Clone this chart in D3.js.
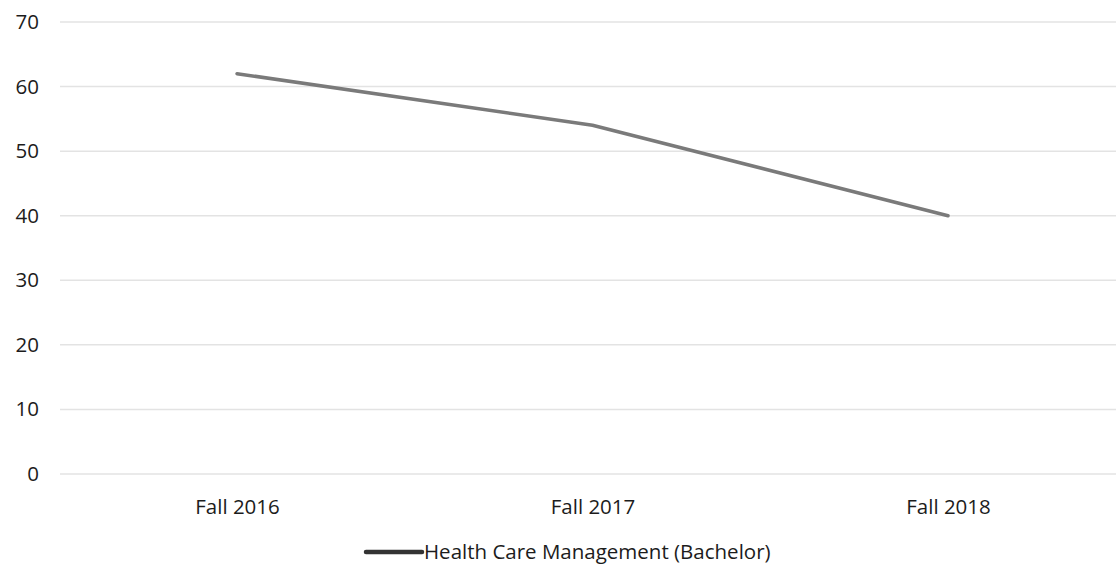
<!DOCTYPE html>
<html>
<head>
<meta charset="utf-8">
<script src="https://cdn.jsdelivr.net/npm/d3@7"></script>
<style>
  html, body { margin: 0; padding: 0; background: #fff; }
  svg { display: block; font-family: "Open Sans", "Noto Sans", sans-serif; }
</style>
</head>
<body>
<svg id="chart" width="1116" height="571"></svg>
<script>
// Enrollment by term
const categories = ["Fall 2016", "Fall 2017", "Fall 2018"];
const values = [62, 54, 40];
const yTicks = [0, 10, 20, 30, 40, 50, 60, 70];
const seriesName = "Health Care Management (Bachelor)";

const svg = d3.select("#chart");
const fontSize = 20.5;
const textColor = "#1c1c1c";

const x = d3.scalePoint()
  .domain(categories)
  .range([237, 948]);

const y = d3.scaleLinear()
  .domain([0, 70])
  .range([474, 22]);

// horizontal gridlines
svg.append("g")
  .selectAll("line")
  .data(yTicks)
  .join("line")
  .attr("x1", 60)
  .attr("x2", 1116)
  .attr("y1", d => y(d))
  .attr("y2", d => y(d))
  .attr("stroke", "#e3e3e3")
  .attr("stroke-width", 1.5);

// y axis labels
const yAxis = d3.axisLeft(y).tickValues(yTicks).tickSize(0).tickPadding(0);
const gy = svg.append("g").attr("transform", "translate(39,0)").call(yAxis);
gy.select(".domain").remove();
gy.selectAll("text")
  .attr("font-size", fontSize)
  .attr("fill", textColor)
  .attr("font-family", "'Open Sans', sans-serif");

// x axis labels
const xAxis = d3.axisBottom(x).tickSize(0).tickPadding(0);
const gx = svg.append("g").attr("transform", "translate(0,499)").call(xAxis);
gx.select(".domain").remove();
gx.selectAll("text")
  .attr("font-size", fontSize)
  .attr("fill", textColor)
  .attr("font-family", "'Open Sans', sans-serif");

// series line
const line = d3.line()
  .x((d, i) => x(categories[i]))
  .y(d => y(d));

svg.append("path")
  .datum(values)
  .attr("d", line)
  .attr("fill", "none")
  .attr("stroke", "#7a7a7a")
  .attr("stroke-width", 3.5)
  .attr("stroke-linejoin", "round")
  .attr("stroke-linecap", "round");

// legend
const legend = svg.append("g").attr("transform", "translate(0,552)");
legend.append("line")
  .attr("x1", 366).attr("x2", 422)
  .attr("y1", 0).attr("y2", 0)
  .attr("stroke", "#333")
  .attr("stroke-width", 4.5)
  .attr("stroke-linecap", "round");
legend.append("text")
  .attr("x", 424)
  .attr("y", 0)
  .attr("dy", "0.35em")
  .attr("font-size", fontSize)
  .attr("fill", textColor)
  .text(seriesName);
</script>
</body>
</html>
